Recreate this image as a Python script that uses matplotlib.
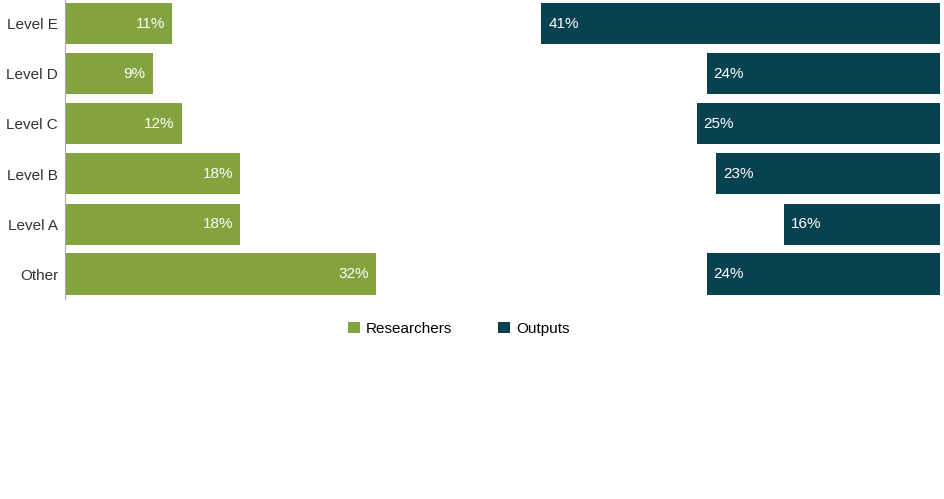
import matplotlib.pyplot as plt

categories = ["Level E", "Level D", "Level C", "Level B", "Level A", "Other"]
researchers = [11, 9, 12, 18, 18, 32]
outputs = [41, 24, 25, 23, 16, 24]

GREEN = "#82a33d"
NAVY = "#08414f"
SPAN = 90

plt.rcParams["font.family"] = "Liberation Sans"

fig = plt.figure(figsize=(9.45, 4.99), dpi=100)
ax = fig.add_axes([65 / 945, 200 / 499, 875 / 945, 300 / 499])

ypos = list(range(len(categories)))
ax.barh(ypos, researchers, height=0.82, color=GREEN, label="Researchers")
ax.barh(ypos, outputs, left=[SPAN - v for v in outputs], height=0.82, color=NAVY, label="Outputs")

for y, v in zip(ypos, researchers):
    ax.text(v - 0.7, y, f"{v}%", color="white", ha="right", va="center", fontsize=11)
for y, v in zip(ypos, outputs):
    ax.text(SPAN - v + 0.7, y, f"{v}%", color="white", ha="left", va="center", fontsize=11)

ax.set_xlim(0, SPAN)
ax.set_ylim(len(categories) - 0.5, -0.5)
ax.set_yticks(ypos)
ax.set_yticklabels(categories, fontsize=11, color="#333333")
ax.set_xticks([])
ax.tick_params(axis="y", length=0, pad=5)
for side in ["top", "right", "bottom"]:
    ax.spines[side].set_visible(False)
ax.spines["left"].set_color("#aaaaaa")

ax.legend(loc="upper center", bbox_to_anchor=(0.45, -0.03), ncol=2, frameon=False,
          fontsize=11, handlelength=0.8, handleheight=0.8, columnspacing=3, handletextpad=0.4)

fig.savefig("out.png", dpi=100)
